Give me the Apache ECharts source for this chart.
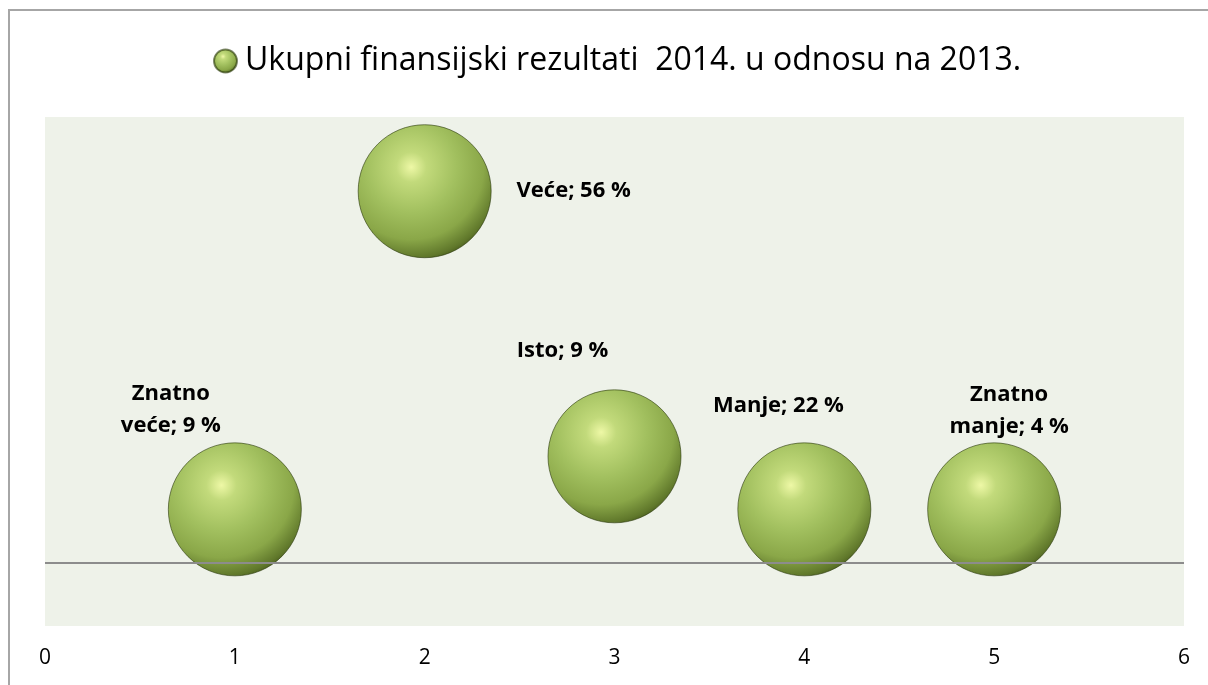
<!DOCTYPE html>
<html lang="en">
<head>
    <meta charset="utf-8"/>
    <script src="https://cdn.jsdelivr.net/npm/echarts@6.0.0/dist/echarts.min.js"></script>
    <title></title>
    <style>
        html, body { margin: 0; padding: 0; background: #fff; }
    </style>
</head>
<body>
<div id="main" style="width: 1208px;height:685px;"></div>
<script type="text/javascript">

    // data
    var seriesName = 'Ukupni finansijski rezultati  2014. u odnosu na 2013.';
    var categories = ['Znatno\nveće', 'Veće', 'Isto', 'Manje', 'Znatno\nmanje'];
    var xValues = [1, 2, 3, 4, 5];
    var yValues = [1, 7, 2, 1, 1];
    var percents = [9, 56, 9, 22, 4];
    var xTicks = [0, 1, 2, 3, 4, 5, 6];

    // where each label sits relative to its bubble (manual placement in the original)
    var labelOffsets = [[-64, -100], [149, 0], [-52, -106], [-26, -104], [15, -99]];

    var ball = {
        type: 'radial', x: 0.4, y: 0.32, r: 0.75,
        colorStops: [
            {offset: 0, color: '#eef8a6'},
            {offset: 0.15, color: '#c2da7b'},
            {offset: 0.45, color: '#a2c05f'},
            {offset: 0.72, color: '#8aa748'},
            {offset: 0.9, color: '#60782b'},
            {offset: 1, color: '#3a4a14'}
        ]
    };

    var points = [];
    for (var i = 0; i < xValues.length; i++) {
        points.push({
            value: [xValues[i], yValues[i], percents[i]],
            name: categories[i],
            label: {offset: labelOffsets[i]}
        });
    }

    var myChart = echarts.init(document.getElementById('main'));

    var option = {
        animation: false,
        graphic: [{
            type: 'rect',
            shape: {x: 9, y: 10, width: 1400, height: 900},
            style: {fill: 'none', stroke: '#a6a6a6', lineWidth: 2}
        }],
        legend: {
            left: 208,
            top: 40,
            itemWidth: 23,
            itemHeight: 23,
            icon: 'circle',
            textStyle: {fontFamily: 'Open Sans', fontSize: 32, color: '#000', padding: [0, 0, 0, 3]},
            data: [seriesName]
        },
        grid: {
            left: 45, right: 24, top: 117, bottom: 59,
            show: true, backgroundColor: '#eef2e9', borderWidth: 0
        },
        xAxis: {
            type: 'value',
            min: xTicks[0],
            max: xTicks[xTicks.length - 1],
            interval: 1,
            axisLine: {show: false},
            axisTick: {show: false},
            splitLine: {show: false},
            axisLabel: {fontFamily: 'Open Sans', fontSize: 21, color: '#000', margin: 22}
        },
        yAxis: {
            type: 'value',
            min: -1.2,
            max: 8.4,
            show: false,
            splitLine: {show: false}
        },
        series: [{
            name: seriesName,
            type: 'scatter',
            symbolSize: 133,
            itemStyle: {color: ball, opacity: 1, borderColor: 'rgba(40,55,10,0.6)', borderWidth: 1},
            label: {
                show: true,
                position: 'inside',
                fontFamily: 'Open Sans',
                fontWeight: 'bold',
                fontSize: 22,
                lineHeight: 32,
                color: '#000',
                align: 'center',
                formatter: function (p) {
                    return p.name + '; ' + p.value[2] + ' %';
                }
            },
            markLine: {
                silent: true,
                symbol: 'none',
                label: {show: false},
                lineStyle: {color: '#8c8c8c', type: 'solid', width: 2},
                data: [{yAxis: 0}]
            },
            z: 3,
            data: points
        }]
    };
    myChart.setOption(option);

    window.onresize = function () { myChart.resize(); };
</script>
</body>
</html>
